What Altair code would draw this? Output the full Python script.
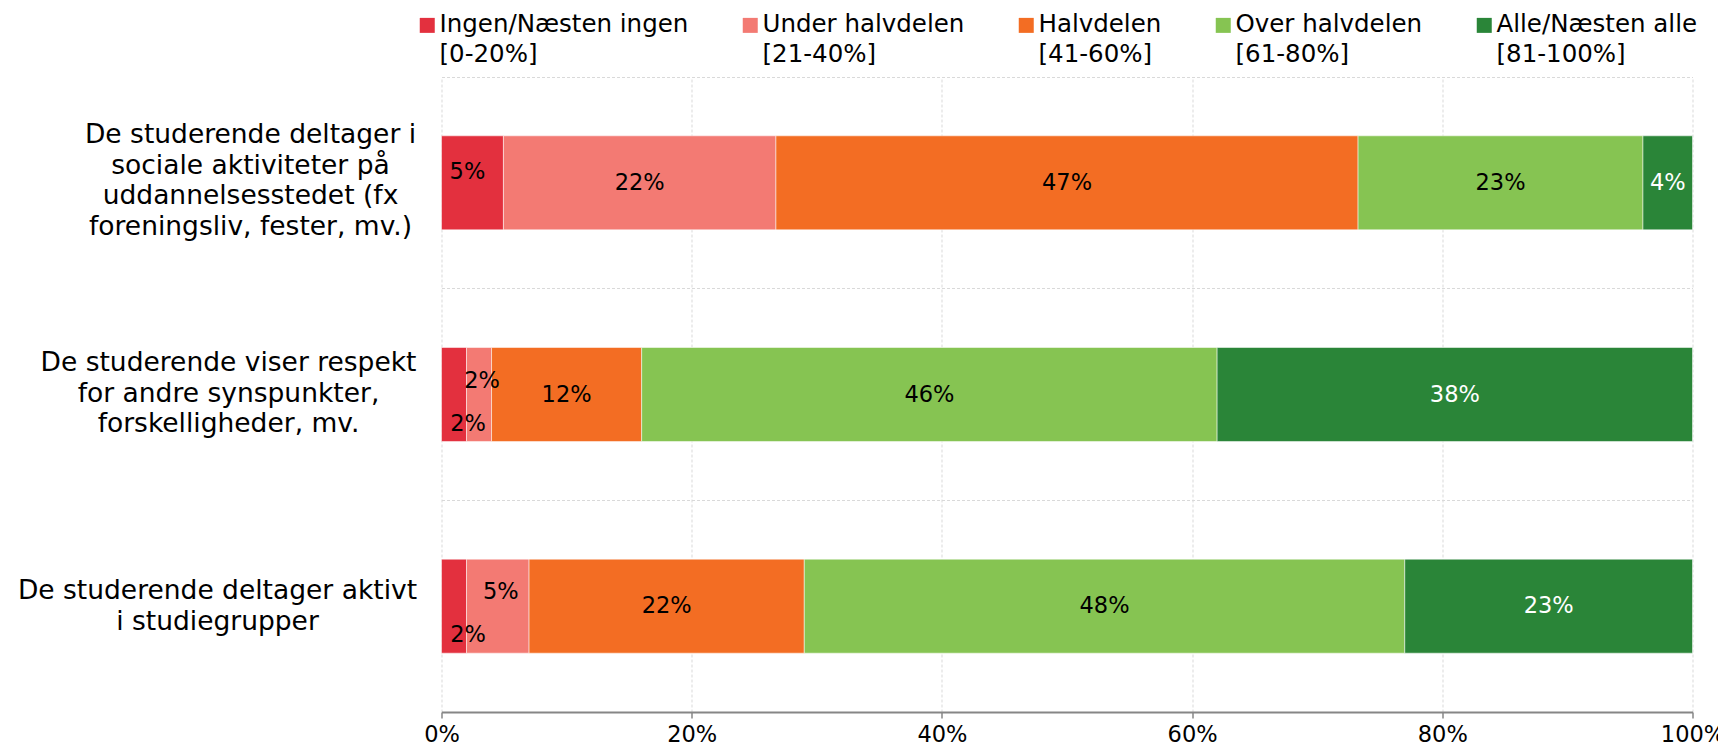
import altair as alt
import pandas as pd

questions = [
    "De studerende deltager i\nsociale aktiviteter på\nuddannelsesstedet (fx\nforeningsliv, fester, mv.)",
    "De studerende viser respekt\nfor andre synspunkter,\nforskelligheder, mv.",
    "De studerende deltager aktivt\ni studiegrupper",
]
categories = [
    "Ingen/Næsten ingen\n[0-20%]",
    "Under halvdelen\n[21-40%]",
    "Halvdelen\n[41-60%]",
    "Over halvdelen\n[61-80%]",
    "Alle/Næsten alle\n[81-100%]",
]
colors = ["#E3303E", "#F37A73", "#F36D23", "#86C452", "#2A8538"]
values_q1 = [5, 22, 47, 23, 4]
values_q2 = [2, 2, 12, 46, 38]
values_q3 = [2, 5, 22, 48, 23]
x_ticks = [0, 0.2, 0.4, 0.6, 0.8, 1.0]

rows = []
for q, vals in zip(questions, [values_q1, values_q2, values_q3]):
    for ci, (c, v) in enumerate(zip(categories, vals)):
        rows.append({"q": q, "cat": c, "ci": ci, "value": v})
df = pd.DataFrame(rows)

FONT = "DejaVu Sans"
P_IN = 0.556
BAND_POS = -P_IN / (1 - P_IN) / 2  # grid at step boundaries

base = (
    alt.Chart(df)
    .transform_joinaggregate(total="sum(value)", groupby=["q"])
    .transform_window(cum="sum(value)", groupby=["q"], sort=[alt.SortField("ci")])
    .transform_calculate(
        x0="(datum.cum - datum.value) / datum.total",
        x1="datum.cum / datum.total",
        xm="(datum.cum - datum.value / 2) / datum.total",
        txt="format(datum.value, 'd') + '%'",
    )
)

y_enc = alt.Y(
    "q:N",
    sort=questions,
    title=None,
    scale=alt.Scale(paddingInner=P_IN, paddingOuter=P_IN / 2),
    axis=alt.Axis(
        ticks=False,
        domain=False,
        grid=True,
        bandPosition=BAND_POS,
        gridColor="#D9D9D9",
        gridDash=[3, 2],
        gridWidth=1,
        labelAlign="center",
        labelBaseline="middle",
        labelFont=FONT,
        labelFontSize=26.5,
        labelLineHeight=30.7,
        labelColor="#000000",
        labelLimit=600,
        labelExpr="split(datum.label, '\\n')",
        labelOffset={
            "condition": [
                {"test": "indexof(datum.value, 'respekt') >= 0", "value": -31.5},
                {"test": "indexof(datum.value, 'aktivt') >= 0", "value": -15},
            ],
            "value": -48,
        },
        labelPadding={
            "condition": [
                {"test": "indexof(datum.value, 'respekt') >= 0", "value": 213.5},
                {"test": "indexof(datum.value, 'aktivt') >= 0", "value": 224.5},
            ],
            "value": 191.5,
        },
    ),
)

x_axis = alt.Axis(
    values=x_ticks,
    format=".0%",
    grid=True,
    gridColor="#D9D9D9",
    gridDash=[3, 2],
    gridWidth=1,
    domainColor="#868686",
    domainWidth=2,
    tickColor="#868686",
    tickWidth=1.5,
    tickSize=6,
    labelFlush=False,
    labelFont=FONT,
    labelFontSize=22.5,
    labelColor="#000000",
    labelPadding=5,
)

bars = base.mark_bar(stroke="white", strokeWidth=1, strokeOpacity=0.5).encode(
    x=alt.X("x0:Q", title=None, scale=alt.Scale(domain=[0, 1], nice=False), axis=x_axis),
    x2="x1:Q",
    y=y_enc,
    color=alt.Color(
        "cat:N",
        scale=alt.Scale(domain=categories, range=colors),
        legend=alt.Legend(
            orient="none",
            legendX=-26.5,
            legendY=-64,
            direction="horizontal",
            columns=5,
            title=None,
            symbolType="square",
            symbolSize=225,
            symbolStrokeWidth=0,
            labelFont=FONT,
            labelFontSize=24.5,
            labelColor="#000000",
            labelLimit=600,
            labelOffset=0,
            labelBaseline="middle",
            labelExpr="split(datum.label, '\\n')",
            columnPadding=49,
            padding=0,
        ),
    ),
    order=alt.Order("ci:Q"),
)


def text_layer(filter_expr, dx=0, dy=0):
    return (
        base.transform_filter(filter_expr)
        .mark_text(font=FONT, fontSize=22.5, align="center", baseline="middle", dx=dx, dy=dy)
        .encode(
            x=alt.X("xm:Q", title=None),
            y=alt.Y("q:N", sort=questions, title=None),
            text="txt:N",
            color=alt.condition("datum.ci == 4", alt.value("white"), alt.value("black")),
        )
    )


small = "((datum.ci == 0 || datum.ci == 1) && datum.value <= 5)"
t_main = text_layer("!" + small)
t_red5 = text_layer("datum.ci == 0 && datum.value == 5", dx=-5, dy=-11)
t_red2 = text_layer("datum.ci == 0 && datum.value <= 2", dx=14, dy=29)
t_sal = text_layer("datum.ci == 1 && datum.value <= 5", dx=3, dy=-14)

chart = (
    alt.layer(bars, t_main, t_red5, t_red2, t_sal)
    .properties(
        width=1251,
        height=635,
        autosize=alt.AutoSizeParams(type="none"),
        padding={"left": 433.5, "top": 69, "right": 25, "bottom": 30},
        background="white",
    )
    .configure(font=FONT, style={"guide-label": {"lineHeight": 30}})
    .configure_view(stroke=None)
)

chart.save("out.html", embed_options={"renderer": "svg", "actions": False})
